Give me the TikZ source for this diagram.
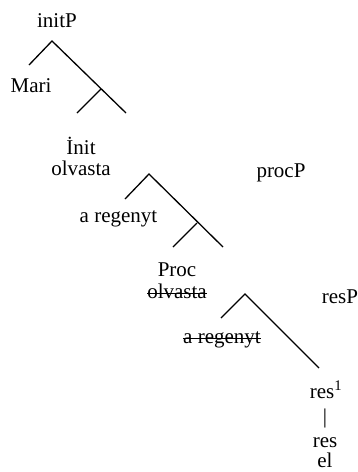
\documentclass[tikz,border=0pt]{standalone}
\usepackage{fontspec}
\setmainfont{Liberation Serif}
\begin{document}
\begin{tikzpicture}[x=1pt,y=-1pt,
  lbl/.style={anchor=base,inner sep=0pt,font=\fontsize{21}{24}\selectfont},
  branch/.style={line width=1.3pt},
  strikeline/.style={line width=0.9pt}]
\useasboundingbox (0,0) rectangle (358,472);

% initP layer
\coordinate (t1) at (52,41);
\coordinate (t1l) at (29,65);
\coordinate (t1r) at (126,113);
\coordinate (t1m) at (101,89);
\coordinate (t1ml) at (77,113);
\draw[branch] (t1l) -- (t1) -- (t1r);
\draw[branch] (t1m) -- (t1ml);
\node[lbl] (initP) at (57,27) {initP};
\node[lbl] (mari) at (31,92) {Mari};
\node[lbl] (init) at (81,154) {İnit};
\node[lbl] (olv1) at (81,175) {olvasta};

% procP layer
\coordinate (t2) at (149,174);
\coordinate (t2l) at (125,199);
\coordinate (t2r) at (223,247);
\coordinate (t2m) at (197,223);
\coordinate (t2ml) at (173,247);
\draw[branch] (t2l) -- (t2) -- (t2r);
\draw[branch] (t2m) -- (t2ml);
\node[lbl] (procP) at (281,177) {procP};
\node[lbl] (reg1) at (118.5,222) {a regenyt};
\node[lbl] (proc) at (177,276) {Proc};
\node[lbl] (olv2) at (177,298) {olvasta};
\draw[strikeline] ([yshift=5pt]olv2.base west) -- ([yshift=5pt]olv2.base east);

% resP layer
\coordinate (t3) at (245,294);
\coordinate (t3l) at (221,318);
\coordinate (t3r) at (319,368);
\draw[branch] (t3l) -- (t3) -- (t3r);
\node[lbl] (resP) at (340,303) {resP};
\node[lbl] (reg2) at (222,343) {a regenyt};
\draw[strikeline] ([yshift=5pt]reg2.base west) -- ([yshift=5pt]reg2.base east);
\node[lbl] (res1) at (326,398) {res\textsuperscript{1}};
\node[lbl] (bar) at (325,423) {|};
\node[lbl] (res2) at (325,447) {res};
\node[lbl] (el) at (325,467) {el};
\end{tikzpicture}
\end{document}
